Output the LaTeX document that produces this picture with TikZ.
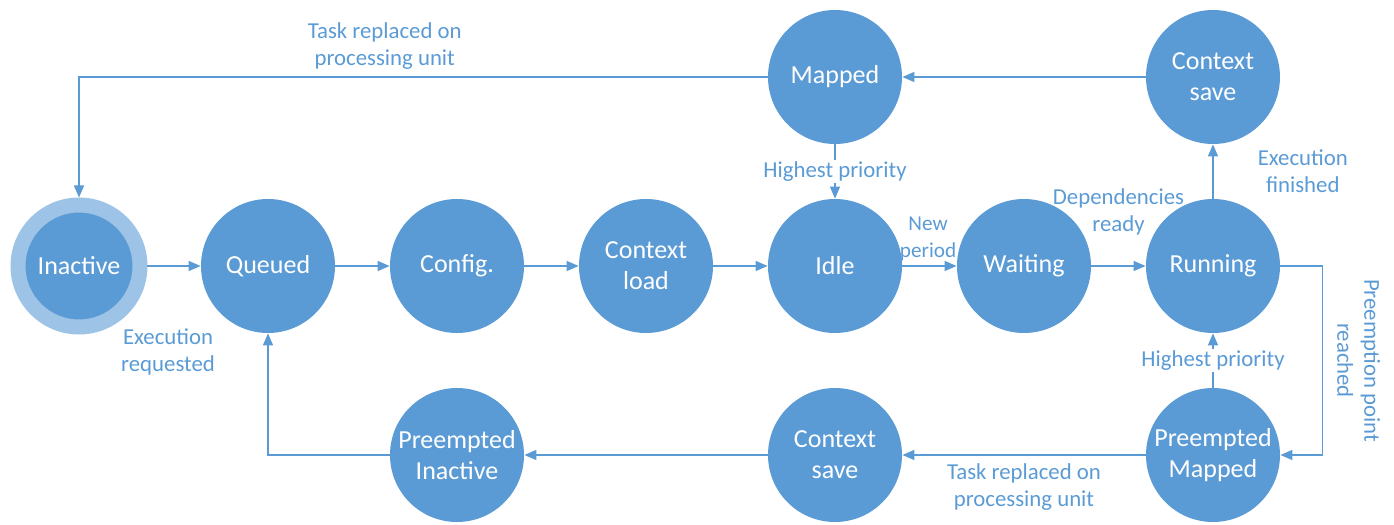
\documentclass[tikz,border=0pt]{standalone}
\usepackage{fontspec}
\setmainfont{Carlito}
\usetikzlibrary{arrows.meta,positioning}
\definecolor{stateblue}{HTML}{5B9BD5}
\definecolor{ringblue}{HTML}{9DC3E6}

\begin{document}
\begin{tikzpicture}[
    node distance=94.5pt,
    >={Triangle[length=6pt,width=5pt]},
    state/.style={circle,fill=stateblue,minimum size=67pt,inner sep=0pt,align=center,
      text=white,font=\fontsize{13}{15.5}\selectfont},
    lbl/.style={text=stateblue,align=center,inner sep=1pt,font=\fontsize{11.4}{13.5}\selectfont},
    flow/.style={draw=stateblue,line width=0.75pt,->}
  ]
      \useasboundingbox (-134pt,-129.5pt) rectangle (563pt,133pt);

      \node[state] (queued) {Queued};
      \node[state,draw=ringblue,line width=7.5pt,minimum size=61pt,left of=queued] (inactive) {Inactive};
      \node[state,right of=queued] (config) {Config.};
      \node[state,right of=config] (cload) {Context\\load};
      \node[state,right of=cload] (idle) {Idle};
      \node[state,right of=idle] (waiting) {Waiting};
      \node[state,right of=waiting] (running) {Running};
      \node[state,above of=idle] (mapped) {Mapped};
      \node[state,above of=running] (csave) {Context\\save};
      \node[state,below of=running] (pmapped) {Preempted\\Mapped};
      \node[state,below of=idle] (psave) {Context\\save};
      \node[state,below of=config] (pinactive) {Preempted\\Inactive};
      \coordinate[right=21pt of running.east] (preempt);

      \draw[flow] (inactive) -- node[lbl,below=30pt,xshift=-3pt] {Execution\\requested} (queued);
      \draw[flow] (queued) -- (config);
      \draw[flow] (config) -- (cload);
      \draw[flow] (cload) -- (idle);
      \draw[flow] (idle) -- node[lbl,above=1pt,xshift=-0.7pt,font=\fontsize{10.6}{13.5}\selectfont] {New\\period} (waiting);
      \draw[flow] (waiting) -- node[lbl,above=14pt] {Dependencies\\ready} (running);
      \draw[flow] (running) -- node[lbl,right=21pt] {Execution\\finished} (csave);
      \draw[flow] (csave) -- (mapped);
      \draw[flow] (mapped) -- node[lbl,fill=white] {Highest priority} (idle);
      \draw[flow] (mapped) -| node[lbl,pos=0.278,above=2.5pt] {Task replaced on\\processing unit} (inactive);
      \draw[flow] (running) -- (preempt) |- node[lbl,pos=0.25,rotate=-90,anchor=south,inner ysep=7pt] {Preemption point\\reached} (pmapped);
      \draw[flow] (pmapped) -- node[lbl,fill=white] {Highest priority} (running);
      \draw[flow] (pmapped) -- node[lbl,below=3pt] {Task replaced on\\processing unit} (psave);
      \draw[flow] (psave) -- (pinactive);
      \draw[flow] (pinactive) -| (queued);
    \end{tikzpicture}
\end{document}
